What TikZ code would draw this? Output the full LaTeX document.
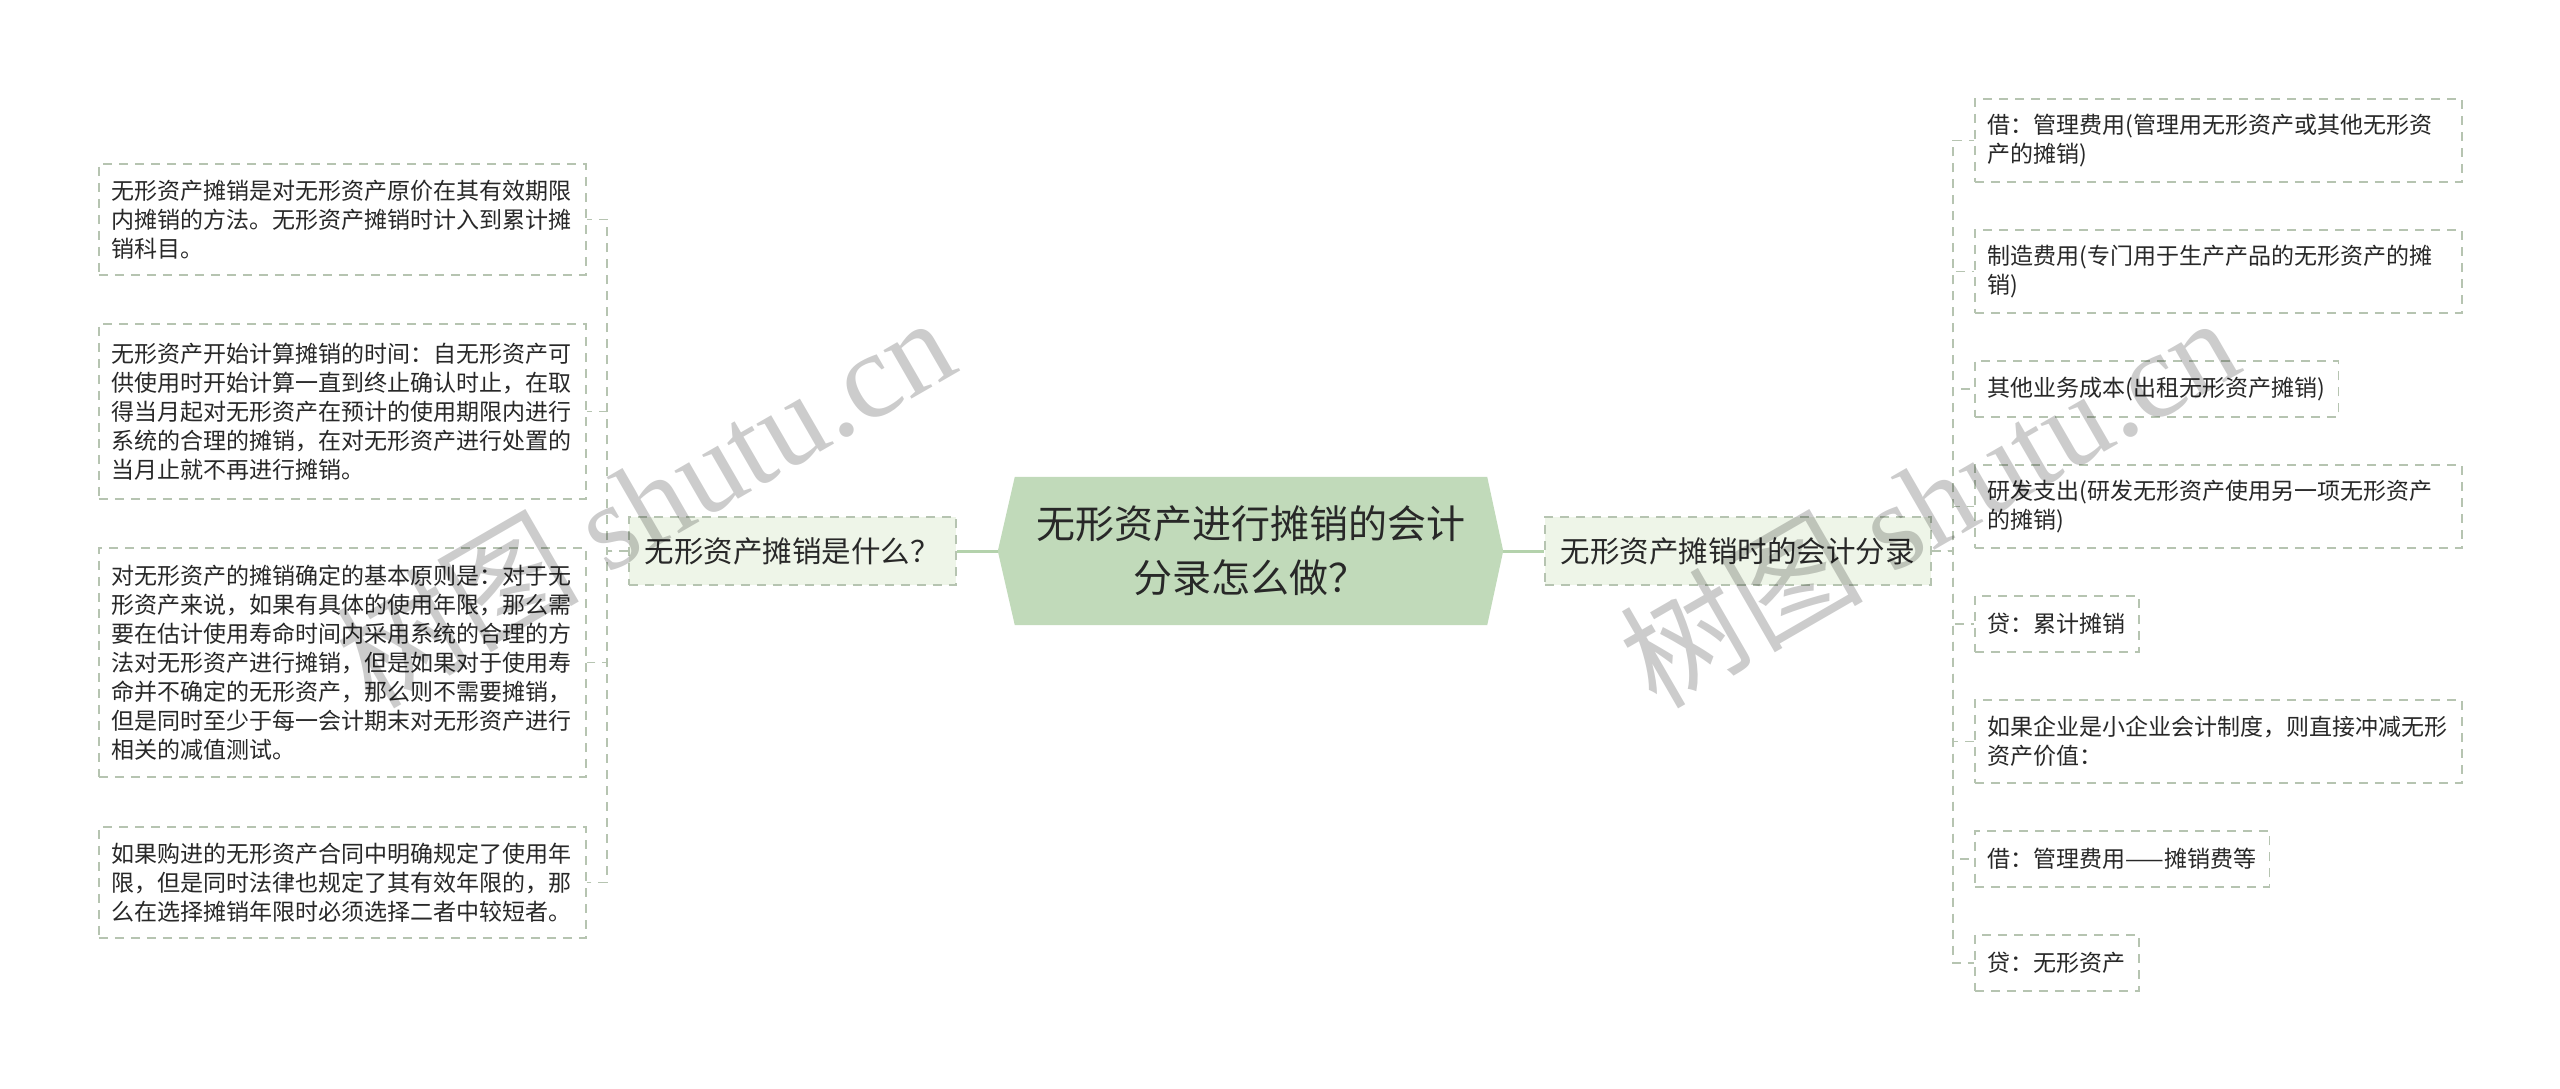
\documentclass[tikz,border=0pt]{standalone}
\usepackage{fontspec}
\setmainfont{Noto Sans CJK SC}
\newfontfamily\wmfont{Liberation Serif}
\definecolor{hexc}{RGB}{193,218,186}
\definecolor{brfill}{RGB}{238,245,232}
\definecolor{dashc}{RGB}{182,196,177}
\definecolor{trunkc}{RGB}{180,210,172}
\definecolor{txt}{RGB}{40,40,40}
\begin{document}
\begin{tikzpicture}[x=1pt,y=-1pt,
  every node/.style={text=txt},
  leaf/.style={draw=dashc, line width=1.6pt, dash pattern=on 9pt off 7pt, fill=white,
    inner xsep=13pt, inner ysep=6pt, anchor=north west,
    font=\fontsize{23pt}{29pt}\selectfont},
  leafw/.style={leaf, text width=461pt, align=left},
  branch/.style={draw=dashc, line width=1.6pt, dash pattern=on 9pt off 7pt, fill=brfill,
    inner xsep=16pt, minimum height=68pt, anchor=west,
    font=\fontsize{29.5pt}{36pt}\selectfont},
  conn/.style={draw=dashc, line width=1.6pt, dash pattern=on 9pt off 7pt},
  trunk/.style={draw=trunkc, line width=3pt},
  wm/.style={text=black, text opacity=0.2, rotate=30, inner sep=0pt,
    font=\fontsize{122pt}{122pt}\selectfont}
]
\fill[white] (0,0) rectangle (2560,1088);
\useasboundingbox (0,0) rectangle (2560,1088);

% central node
\node[minimum width=505pt, minimum height=148pt, inner sep=0pt] (c) at (1250.5,551) {};
\fill[hexc] (c.west) -- ([xshift=17pt]c.north west) -- ([xshift=-16pt]c.north east)
  -- (c.east) -- ([xshift=-16pt]c.south east) -- ([xshift=17pt]c.south west) -- cycle;
\node[align=center, font=\fontsize{39pt}{54pt}\selectfont] (ct) at (c) {无形资产进行摊销的会计\\分录怎么做？};

% branch nodes
\node[branch] (lb) at (628,551) {无形资产摊销是什么？};
\node[branch] (rb) at (1544,551) {无形资产摊销时的会计分录};

% left leaves
\node[leafw, minimum height=111pt] (l1) at (98,163) {无形资产摊销是对无形资产原价在其有效期限\\内摊销的方法。无形资产摊销时计入到累计摊\\销科目。};
\node[leafw, minimum height=175pt] (l2) at (98,323) {无形资产开始计算摊销的时间：自无形资产可\\供使用时开始计算一直到终止确认时止，在取\\得当月起对无形资产在预计的使用期限内进行\\系统的合理的摊销，在对无形资产进行处置的\\当月止就不再进行摊销。};
\node[leafw, minimum height=229pt] (l3) at (98,547) {对无形资产的摊销确定的基本原则是：对于无\\形资产来说，如果有具体的使用年限，那么需\\要在估计使用寿命时间内采用系统的合理的方\\法对无形资产进行摊销，但是如果对于使用寿\\命并不确定的无形资产，那么则不需要摊销，\\但是同时至少于每一会计期末对无形资产进行\\相关的减值测试。};
\node[leafw, minimum height=111pt] (l4) at (98,826) {如果购进的无形资产合同中明确规定了使用年\\限，但是同时法律也规定了其有效年限的，那\\么在选择摊销年限时必须选择二者中较短者。};

% right leaves
\node[leafw, minimum height=83pt] (r1) at (1974,98) {借：管理费用(管理用无形资产或其他无形资\\产的摊销)};
\node[leafw, minimum height=83pt] (r2) at (1974,229) {制造费用(专门用于生产产品的无形资产的摊\\销)};
\node[leaf, minimum height=56pt] (r3) at (1974,360) {其他业务成本(出租无形资产摊销)};
\node[leafw, minimum height=83pt] (r4) at (1974,464) {研发支出(研发无形资产使用另一项无形资产\\的摊销)};
\node[leaf, minimum height=56pt] (r5) at (1974,595) {贷：累计摊销};
\node[leafw, minimum height=83pt] (r6) at (1974,699) {如果企业是小企业会计制度，则直接冲减无形\\资产价值：};
\node[leaf, minimum height=56pt] (r7) at (1974,830) {借：管理费用——摊销费等};
\node[leaf, minimum height=56pt] (r8) at (1974,934) {贷：无形资产};

% connectors
\draw[trunk] (c.west) -- (lb.east);
\draw[trunk] (c.east) -- (rb.west);
\coordinate (lj) at (607,551);
\coordinate (rj) at (1953,551);
\foreach \n in {l1,l2,l3,l4} {\draw[conn] (lb.west) -- (lj) |- (\n.east);}
\foreach \n in {r1,r2,r3,r4,r5,r6,r7,r8} {\draw[conn] (rb.east) -- (rj) |- (\n.west);}

% watermarks
\node[wm] (wm1) at (644,500) {树图 {\wmfont shutu.cn}};
\node[wm] (wm2) at (1928,500) {树图 {\wmfont shutu.cn}};
\end{tikzpicture}
\end{document}
